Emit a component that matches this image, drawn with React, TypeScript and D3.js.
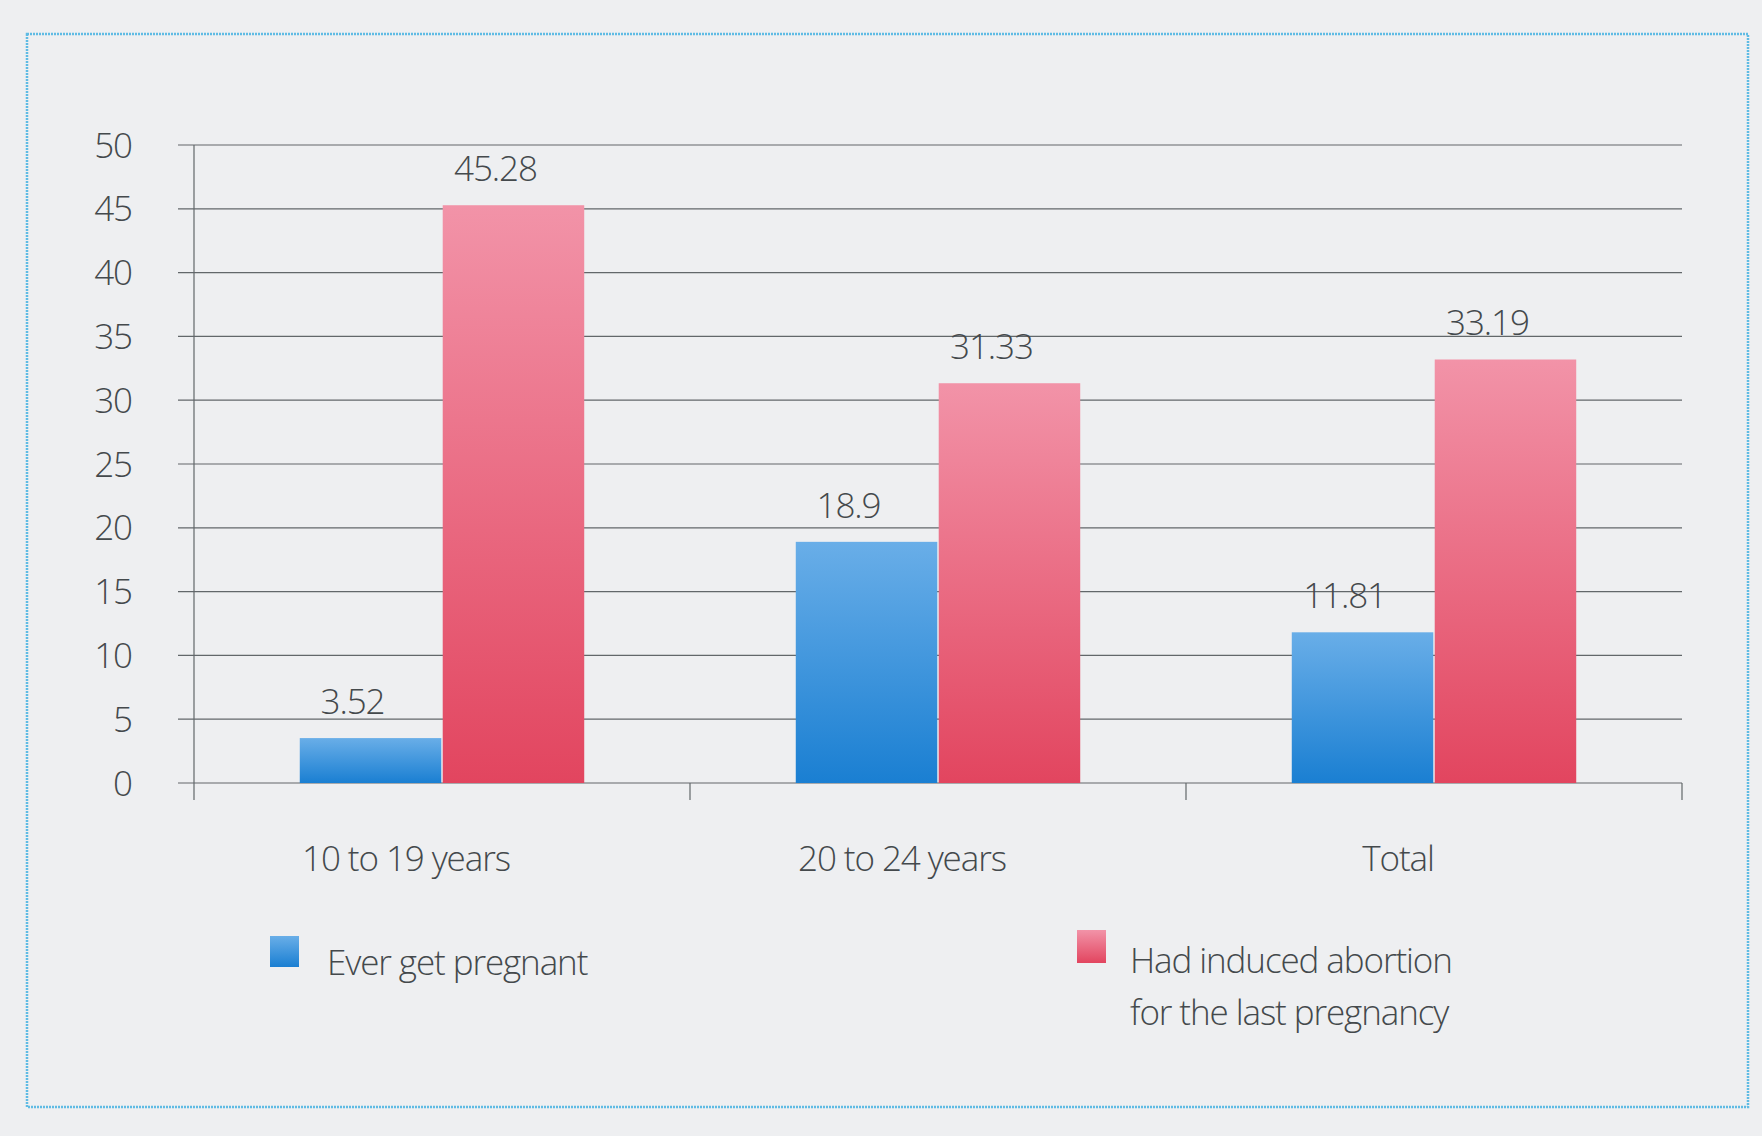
import React from 'react';
import * as d3 from 'd3';

const categories = ['10 to 19 years', '20 to 24 years', 'Total'];
const seriesNames = ['Ever get pregnant', 'Had induced abortion for the last pregnancy'];
const everPregnant = [3.52, 18.9, 11.81];
const inducedAbortion = [45.28, 31.33, 33.19];
const yTicks = [0, 5, 10, 15, 20, 25, 30, 35, 40, 45, 50];

const W = 1762;
const H = 1136;
const FONT = '"Open Sans", "Noto Sans", sans-serif';
const TEXT = '#44494c';

const App = () => {
  // plot area
  const left = 194;
  const right = 1682;
  const top = 145;
  const bottom = 783;

  const y = d3.scaleLinear().domain([0, 50]).range([bottom, top]);
  const x0 = d3.scaleBand().domain(categories).range([left, right]);
  const x1 = d3.scaleBand()
    .domain(seriesNames)
    .range([0, x0.bandwidth()])
    .paddingInner(0.01)
    .paddingOuter(0.74);

  const values = [everPregnant, inducedAbortion];
  const fills = ['url(#blueGrad)', 'url(#pinkGrad)'];
  const txt = { fontSize: 35, letterSpacing: -1.1, fill: TEXT, fontWeight: 300 };

  return (
    <svg width={W} height={H} style={{ position: 'absolute', left: 0, top: 0, fontFamily: FONT }}>
      <defs>
        <linearGradient id="blueGrad" x1="0" y1="0" x2="0" y2="1">
          <stop offset="0%" stopColor="#69aee8" />
          <stop offset="100%" stopColor="#1a7fd2" />
        </linearGradient>
        <linearGradient id="pinkGrad" x1="0" y1="0" x2="0" y2="1">
          <stop offset="0%" stopColor="#f293a8" />
          <stop offset="100%" stopColor="#e2455f" />
        </linearGradient>
      </defs>

      <rect x={0} y={0} width={W} height={H} fill="#eeeff1" />
      {/* dotted frame */}
      <rect x={27} y={34} width={1721} height={1073} fill="none"
        stroke="#5fbbe4" strokeWidth={2.5} strokeDasharray="2 1" />

      {/* gridlines */}
      {yTicks.map(t => (
        <line key={t} x1={178} x2={right} y1={y(t)} y2={y(t)} stroke="#62676a" strokeWidth={1.2} />
      ))}

      {/* y axis */}
      <line x1={left} x2={left} y1={top} y2={800} stroke="#62676a" strokeWidth={1.2} />
      {yTicks.map(t => (
        <text key={t} x={132} y={y(t)} dy="0.36em" textAnchor="end" {...txt}>{t}</text>
      ))}

      {/* category tick marks */}
      {categories.map(c => (
        <line key={c} x1={x0(c)! + x0.bandwidth()} x2={x0(c)! + x0.bandwidth()}
          y1={bottom} y2={800} stroke="#62676a" strokeWidth={1.2} />
      ))}

      {/* bars */}
      {categories.map((c, i) => (
        <g key={c} transform={`translate(${x0(c)},0)`}>
          {seriesNames.map((s, j) => {
            const v = values[j][i];
            return (
              <g key={s}>
                <rect x={x1(s)} y={y(v)} width={x1.bandwidth()} height={bottom - y(v)} fill={fills[j]} />
                <text x={x1(s)! + x1.bandwidth() / 2 - 18} y={y(v) - 24} textAnchor="middle" {...txt}>{v}</text>
              </g>
            );
          })}
        </g>
      ))}

      {/* category labels */}
      {categories.map(c => (
        <text key={c} x={x0(c)! + x0.bandwidth() / 2 - 36} y={871} textAnchor="middle" {...txt}>{c}</text>
      ))}

      {/* legend */}
      <rect x={270} y={936} width={29} height={31} fill="url(#blueGrad)" />
      <text x={327} y={975} {...txt}>{seriesNames[0]}</text>
      <rect x={1077} y={930} width={29} height={33} fill="url(#pinkGrad)" />
      <text x={1130} y={973} {...txt}>
        <tspan x={1130}>Had induced abortion</tspan>
        <tspan x={1130} dy={52}>for the last pregnancy</tspan>
      </text>
    </svg>
  );
};

export default App;
